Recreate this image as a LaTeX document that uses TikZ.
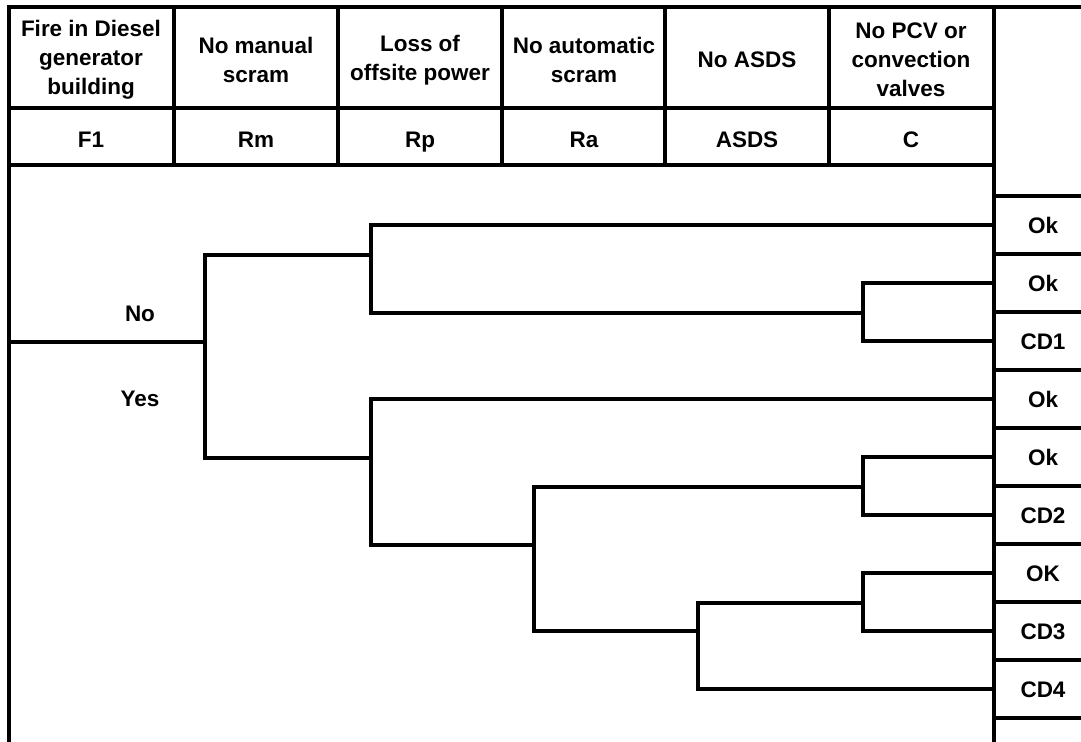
\documentclass[tikz,border=0pt]{standalone}
\usepackage{fontspec}
\setmainfont{Liberation Sans}
\usepackage{tikz}
\usetikzlibrary{positioning}
\tikzset{
  rule/.style   ={line width=2pt},
  branch/.style ={line width=2pt},
  head/.style   ={font=\bfseries\fontsize{12.8}{16.4}\selectfont, align=center, inner sep=0pt},
  code/.style   ={head, text height=9.2pt, text depth=0pt},
  outcome/.style={code, minimum width=1.96cm},
}

\begin{document}
\begin{tikzpicture}[x=0.02cm, y=-0.02cm]
      \useasboundingbox (0,0) rectangle (1081,742);
      % table frame
      \draw[rule] (9,742) -- (9,7) -- (1081,7);
      \draw[rule] (994,7) -- (994,742);
      \draw[rule] (9,108) -- (994,108);
      \draw[rule] (9,165) -- (994,165);
      \foreach \x in {174,338,502,665,829} \draw[rule] (\x,7) -- (\x,165);
      \foreach \y in {196,254,...,718} \draw[rule] (994,\y) -- (1081,\y);
      % headings and event codes
      \foreach \x/\t/\c [count=\i] in {91/{Fire in Diesel\\generator\\building}/F1,
                                       256/{No manual\\scram}/Rm,
                                       420/{Loss of\\offsite power}/Rp,
                                       584/{No automatic\\scram}/Ra,
                                       747/{No ASDS}/ASDS,
                                       911/{No PCV or\\convection\\valves}/C}{
        \node[head] (h\i) at (\x,60) {\t};
        \node[code] (c\i) at (\x,139) {\c};
      }
      % end states
      \foreach \t [count=\i] in {Ok,Ok,CD1,Ok,Ok,CD2,OK,CD3,CD4}
        \node[outcome] (o\i) at (1043,167+58*\i) {\t};
      \node[code] (no)  at (140,313) {No};
      \node[code] (yes) at (140,398) {Yes};
      % tree
      \coordinate (r0) at (9,342);
      \coordinate (f1) at (205,342);
      \coordinate (nA) at (371,255);
      \coordinate (nB) at (863,313);
      \coordinate (yA) at (371,458);
      \coordinate (yB) at (534,545);
      \coordinate (yC) at (863,487);
      \coordinate (yD) at (698,631);
      \coordinate (yE) at (863,603);
      \draw[branch] (r0) -- (f1);
      \draw[branch] (nA) -| (f1) |- (yA);
      \draw[branch] (o1.west) -| (nA) |- (nB);
      \draw[branch] (o2.west) -| (nB) |- (o3.west);
      \draw[branch] (o4.west) -| (yA) |- (yB);
      \draw[branch] (yC) -| (yB) |- (yD);
      \draw[branch] (o5.west) -| (yC) |- (o6.west);
      \draw[branch] (yE) -| (yD) |- (o9.west);
      \draw[branch] (o7.west) -| (yE) |- (o8.west);
    \end{tikzpicture}
\end{document}
